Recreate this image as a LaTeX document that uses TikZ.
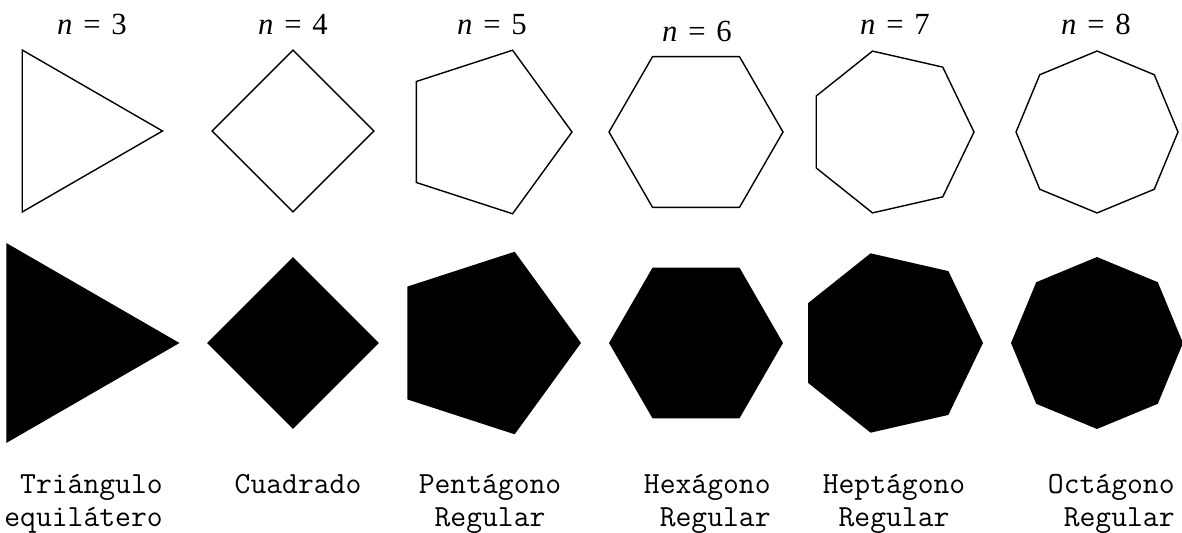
\documentclass[tikz,border=0pt]{standalone}
\usepackage{fontspec}
\setmainfont{Liberation Serif}
\usetikzlibrary{shapes.geometric}

\begin{document}
\begin{tikzpicture}[
    x=0.02cm, y=-0.02cm,
    outline/.style={regular polygon, draw, line width=0.8pt, inner sep=0pt},
    filled/.style={regular polygon, fill=black, inner sep=0pt},
    nlab/.style={font=\fontsize{17.5}{21}\selectfont, anchor=base, inner sep=0pt},
    namelab/.style={font=\ttfamily\fontsize{17.5}{18.5}\selectfont, inner sep=0pt},
]
\useasboundingbox (0,0) rectangle (1182,533);

% upper row: outlines
\node[outline, regular polygon sides=3, minimum size=3.74cm, rotate=-90] (tri) at (69,131) {};
\node[outline, regular polygon sides=4, minimum size=3.24cm, rotate=45] (sq) at (293,131) {};
\node[outline, regular polygon sides=5, minimum size=3.44cm, rotate=-90] (pent) at (486,132) {};
\node[outline, regular polygon sides=6, minimum size=3.48cm] (hex) at (696,132) {};
\node[outline, regular polygon sides=7, minimum size=3.32cm, rotate=-90] (hept) at (891,132) {};
\node[outline, regular polygon sides=8, minimum size=3.24cm, rotate=22.5] (oct) at (1097,132) {};

\node[nlab] (n3) at (92,35) {\textit{n}\hspace{0.35em}=\hspace{0.35em}3};
\node[nlab] (n4) at (293,35) {\textit{n}\hspace{0.35em}=\hspace{0.35em}4};
\node[nlab] (n5) at (492,35) {\textit{n}\hspace{0.35em}=\hspace{0.35em}5};
\node[nlab] (n6) at (697,42) {\textit{n}\hspace{0.35em}=\hspace{0.35em}6};
\node[nlab] (n7) at (895,35) {\textit{n}\hspace{0.35em}=\hspace{0.35em}7};
\node[nlab] (n8) at (1096,35) {\textit{n}\hspace{0.35em}=\hspace{0.35em}8};

% lower row: filled
\node[filled, regular polygon sides=3, minimum size=4.62cm, rotate=-90] (ftri) at (64,343) {};
\node[filled, regular polygon sides=4, minimum size=3.44cm, rotate=45] (fsq) at (293,343) {};
\node[filled, regular polygon sides=5, minimum size=3.84cm, rotate=-90] (fpent) at (485,343) {};
\node[filled, regular polygon sides=6, minimum size=3.48cm] (fhex) at (696,343) {};
\node[filled, regular polygon sides=7, minimum size=3.68cm, rotate=-90] (fhept) at (891,343) {};
\node[filled, regular polygon sides=8, minimum size=3.44cm, rotate=22.5] (foct) at (1097,343) {};

\node[namelab, anchor=north west, align=right] (ntri) at (4,474) {Triángulo\\equilátero};
\node[namelab, anchor=north] (nsq) at (298,474) {Cuadrado};
\node[namelab, anchor=north, align=center] (npent) at (490,474) {Pentágono\\Regular};
\node[namelab, anchor=north east, align=right] (nhex) at (771,474) {Hexágono\\Regular};
\node[namelab, anchor=north, align=center] (nhept) at (894,474) {Heptágono\\Regular};
\node[namelab, anchor=north east, align=right] (noct) at (1175,474) {Octágono\\Regular};

\end{tikzpicture}
\end{document}
